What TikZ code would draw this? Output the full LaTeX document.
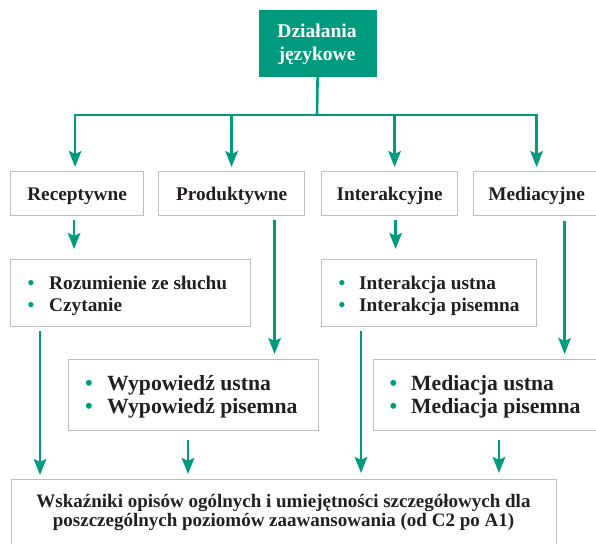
\documentclass[tikz,border=0pt]{standalone}
\usepackage{fontspec}
\setmainfont{Liberation Serif}
\usetikzlibrary{arrows.meta,calc}
\definecolor{tealc}{HTML}{009B7F}
\definecolor{boxgray}{HTML}{BEBEBE}
\definecolor{txt}{HTML}{231F20}
\newcommand{\bul}[1]{\makebox[#1][l]{\textcolor{tealc}{•}}}
\begin{document}
\begin{tikzpicture}[x=1pt,y=-1pt,
  frame/.style={draw=boxgray, line width=1.2pt, inner sep=0pt, anchor=north west},
  lbl/.style={text=txt, font=\bfseries\fontsize{19.3}{22}\selectfont, inner sep=0pt, anchor=base},
  lst/.style={text=txt, font=\bfseries\fontsize{19.3}{22}\selectfont, inner sep=0pt, anchor=base west},
  biglst/.style={text=txt, font=\bfseries\fontsize{21.7}{23.3}\selectfont, inner sep=0pt, anchor=base west},
  bottxt/.style={text=txt, font=\bfseries\fontsize{19}{19}\selectfont, inner sep=0pt, anchor=base},
  toptxt/.style={text=white, font=\bfseries\fontsize{19.5}{23.4}\selectfont, inner sep=0pt, anchor=base},
  tline/.style={draw=tealc, line width=2.6pt},
  arr/.style={draw=tealc, line width=2.6pt, -{Stealth[length=16pt,width=12.5pt,inset=3pt]}}]
\useasboundingbox (0,0) rectangle (596,543);
\clip (0,0) rectangle (596,543);

% top box
\node[frame, draw=none, fill=tealc, minimum width=118pt, minimum height=67pt] (top) at (258,9) {};
\node[toptxt] (toplbl) at (317,37.3) {\begin{tabular}[t]{@{}c@{}}Działania\\językowe\end{tabular}};

% level 2 boxes
\node[frame, minimum width=133pt, minimum height=44pt] (rec) at (10,171) {};
\node[frame, minimum width=146pt, minimum height=44pt] (prod) at (158,171) {};
\node[frame, minimum width=136pt, minimum height=44pt] (int) at (321,171) {};
\node[frame, minimum width=126pt, minimum height=44pt] (med) at (473,171) {};
\node[lbl] (reclbl) at ([yshift=-7pt]rec.center) {Receptywne};
\node[lbl] (prodlbl) at ([yshift=-7pt]prod.center) {Produktywne};
\node[lbl] (intlbl) at ([yshift=-7pt]int.center) {Interakcyjne};
\node[lbl] (medlbl) at ([yshift=-7pt]med.center) {Mediacyjne};

% level 3 boxes
\node[frame, minimum width=240pt, minimum height=67pt] (roz) at (10,259) {};
\node[frame, minimum width=215pt, minimum height=67pt] (inl) at (321,259) {};
\node[lst] (rozlbl) at (27.5,289) {\begin{tabular}[t]{@{}l@{}}\bul{21.5pt}Rozumienie ze słuchu\\\bul{21.5pt}Czytanie\end{tabular}};
\node[lst] (inllbl) at (338.5,289) {\begin{tabular}[t]{@{}l@{}}\bul{20.5pt}Interakcja ustna\\\bul{20.5pt}Interakcja pisemna\end{tabular}};

% level 4 boxes
\node[frame, minimum width=250pt, minimum height=71pt] (wyp) at (68,359) {};
\node[frame, minimum width=250pt, minimum height=71pt] (mel) at (373,359) {};
\node[biglst] (wyplbl) at (85,390) {\begin{tabular}[t]{@{}l@{}}\bul{22pt}Wypowiedź ustna\\\bul{22pt}Wypowiedź pisemna\end{tabular}};
\node[biglst] (mellbl) at (389.5,390) {\begin{tabular}[t]{@{}l@{}}\bul{21.5pt}Mediacja ustna\\\bul{21.5pt}Mediacja pisemna\end{tabular}};

% bottom box
\node[frame, minimum width=545pt, minimum height=90pt] (bot) at (11,479) {};
\node[bottxt] (botlbl) at (283.5,507) {\begin{tabular}[t]{@{}c@{}}Wskaźniki opisów ogólnych i umiejętności szczegółowych dla\\poszczególnych poziomów zaawansowania (od C2 po A1)\end{tabular}};

% connectors
\coordinate (bus) at (317,115);
\coordinate (intin) at ([xshift=5pt]int.north);
\draw[tline] (top.south) -- (bus);
\draw[arr, shorten >=4pt] (bus) -| ([xshift=-2pt]rec.north);
\draw[arr, shorten >=4pt] (bus) -| (med.north);
\draw[arr, shorten >=4pt] (bus -| prod.north) -- (prod.north);
\draw[arr, shorten >=4pt] (bus -| intin) -- (intin);

\draw[arr, shorten <=4pt, shorten >=10pt] ([xshift=-3pt]rec.south) -- ([xshift=-3pt]rec.south |- roz.north);
\draw[arr, shorten <=4pt, shorten >=10pt] ([xshift=6pt]int.south) -- ([xshift=6pt]int.south |- inl.north);
\draw[arr, shorten <=4pt, shorten >=5pt] ([xshift=43pt]prod.south) -- ([xshift=43pt]prod.south |- wyp.north);
\draw[arr, shorten <=5pt, shorten >=5pt] ([xshift=28pt]med.south) -- ([xshift=28pt]med.south |- mel.north);

\draw[arr, shorten <=4pt, shorten >=4pt] ([xshift=30pt]roz.south west) -- ([xshift=30pt]roz.south west |- bot.north);
\draw[arr, shorten <=9pt, shorten >=5pt] ([xshift=120pt]wyp.south west) -- ([xshift=120pt]wyp.south west |- bot.north);
\draw[arr, shorten <=4pt, shorten >=6pt] ([xshift=40pt]inl.south west) -- ([xshift=40pt]inl.south west |- bot.north);
\draw[arr, shorten <=9pt, shorten >=6pt] ([xshift=126pt]mel.south west) -- ([xshift=126pt]mel.south west |- bot.north);
\end{tikzpicture}
\end{document}
